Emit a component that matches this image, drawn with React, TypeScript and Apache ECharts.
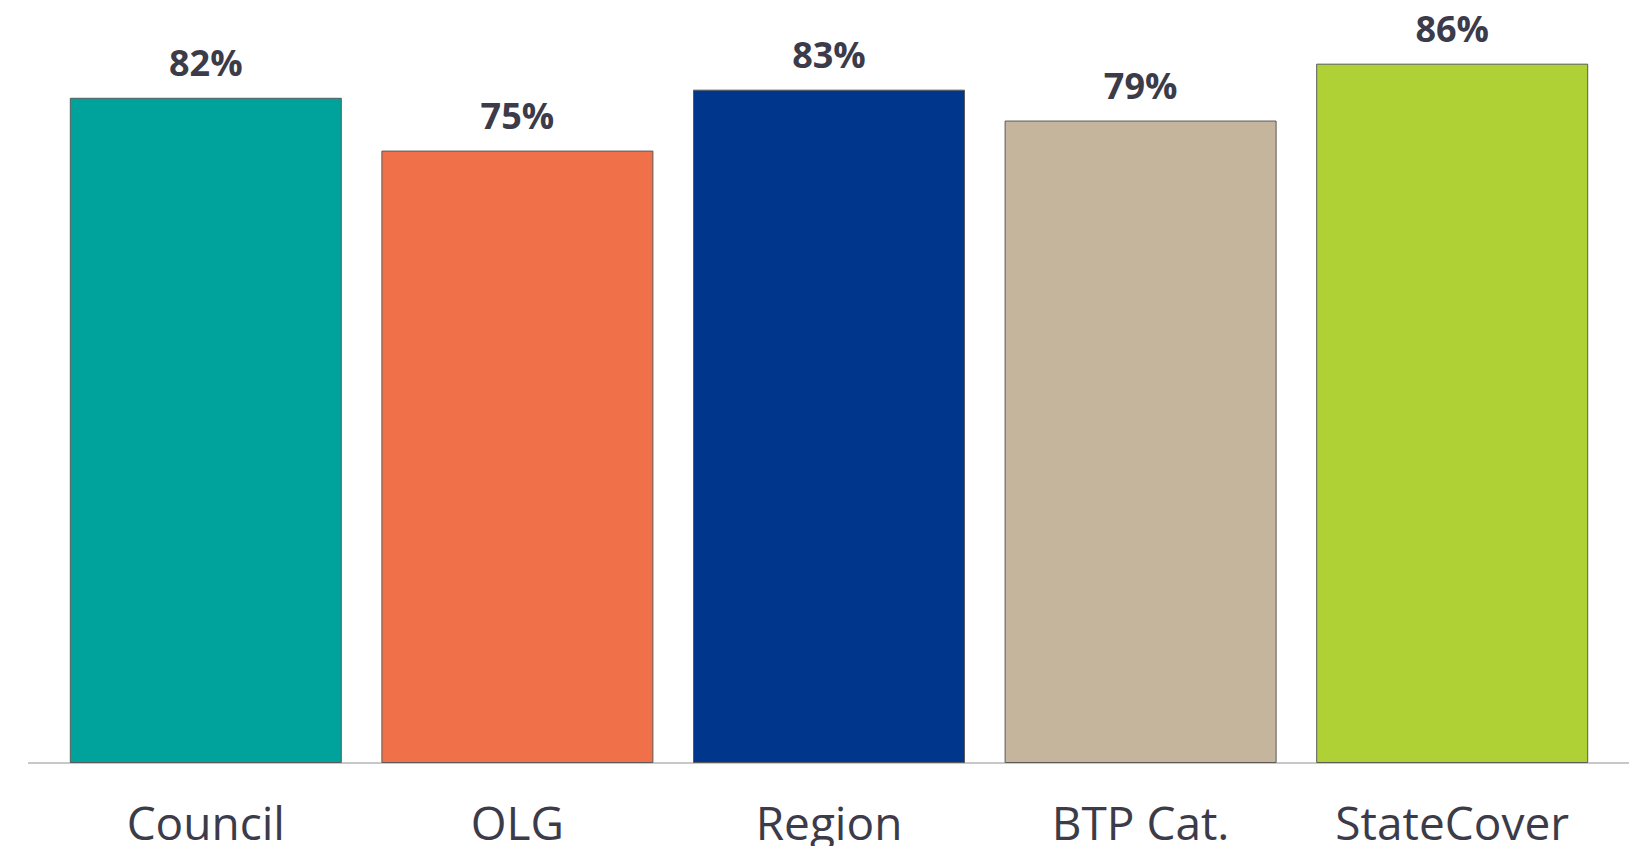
import React, { useEffect, useRef } from "react";
import * as echarts from "echarts";

const categories = ["Council", "OLG", "Region", "BTP Cat.", "StateCover"];
const values = [81.9, 75.4, 82.9, 79.1, 86.1];
const colors = ["#00A39B", "#F07049", "#00378C", "#C4B59C", "#B0D136"];

export default function App() {
  const ref = useRef<HTMLDivElement>(null);
  useEffect(() => {
    if (!ref.current) return;
    const chart = echarts.init(ref.current, null, { renderer: "svg" });
    chart.setOption({
      animation: false,
      backgroundColor: "#ffffff",
      grid: { left: 50, right: 32, top: 32, bottom: 83, containLabel: false },
      xAxis: {
        type: "category",
        data: categories,
        axisLine: { show: false },
        axisTick: { show: false },
        axisLabel: {
          color: "#3C3B4A",
          fontFamily: "Open Sans",
          fontSize: 46,
          margin: 36,
        },
      },
      yAxis: {
        type: "value",
        min: 0,
        max: 90,
        show: false,
        splitLine: { show: false },
      },
      graphic: [
        {
          type: "line",
          shape: { x1: 28, y1: 763, x2: 1629, y2: 763 },
          style: { stroke: "#C8C8C8", lineWidth: 2 },
          z: 1,
        },
      ],
      series: [
        {
          type: "bar",
          barWidth: 272,
          z: 2,
          data: values.map((v, i) => ({
            value: v,
            itemStyle: { color: colors[i], borderColor: "#5A5A5A", borderWidth: 1 },
          })),
          label: {
            show: true,
            position: "top",
            distance: 17,
            formatter: (p: any) => Math.round(p.value) + "%",
            color: "#3C3B4A",
            fontFamily: "Open Sans",
            fontWeight: "bold",
            fontSize: 36,
          },
        },
      ],
    });
    return () => chart.dispose();
  }, []);
  return <div ref={ref} style={{ width: 1640, height: 846, position: "absolute", left: 0, top: 0 }} />;
}
